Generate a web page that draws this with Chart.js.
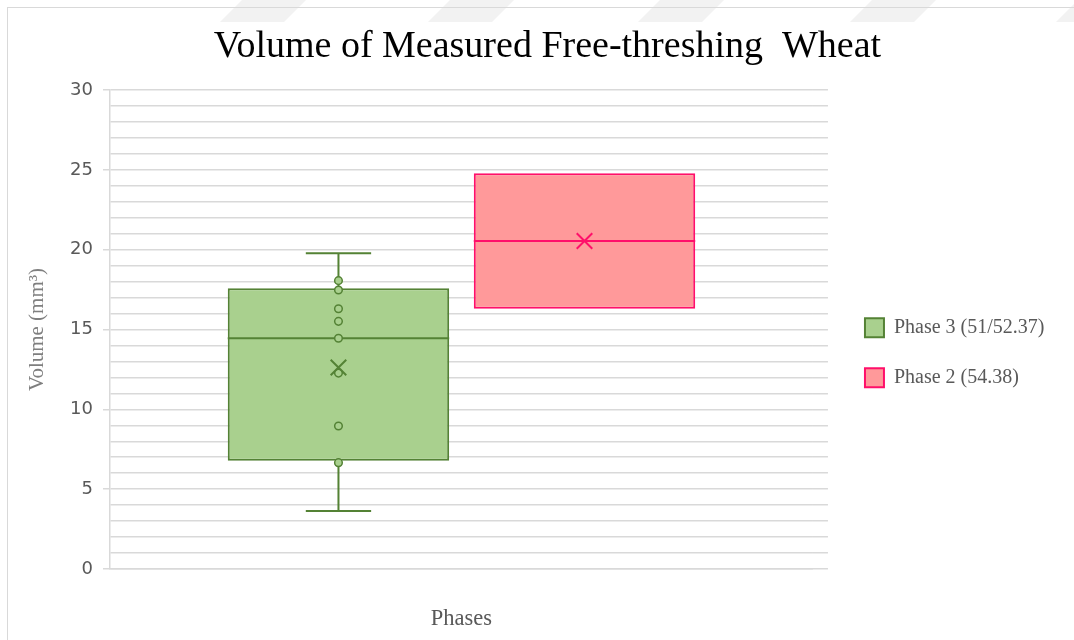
<!DOCTYPE html>
<html>
<head>
<meta charset="utf-8">
<script src="https://cdn.jsdelivr.net/npm/chart.js@4.4.1/dist/chart.umd.min.js"></script>
<style>
  html, body { margin: 0; padding: 0; background: #fff; }
  #wrap { position: relative; width: 1074px; height: 640px; overflow: hidden; background: #fff; }
  .band { position: absolute; top: -2px; width: 64px; height: 24px; background: #f2f2f2; transform: skewX(-45deg); }
  #frame { position: absolute; left: 7px; top: 7px; width: 1200px; height: 800px;
           border: 1.5px solid #d9d9d9; box-sizing: border-box; }
  #c { position: absolute; left: 0; top: 0; }
</style>
</head>
<body>
<div id="wrap">
  <div class="band" style="left:232px"></div>
  <div class="band" style="left:440px"></div>
  <div class="band" style="left:650px"></div>
  <div class="band" style="left:862px"></div>
  <div class="band" style="left:1068px"></div>
  <div id="frame"></div>
  <canvas id="c" width="1074" height="640"></canvas>
</div>
<script>
// Five-number summaries (plus mean) of measured grain volume, mm³
const chartTitle   = 'Volume of Measured Free-threshing  Wheat';
const seriesNames  = ['Phase 3 (51/52.37)', 'Phase 2 (54.38)'];
const whiskerLow   = [3.63, 16.30];
const quartile1    = [6.78, 16.30];
const medians      = [14.45, 20.54];
const quartile3    = [17.58, 24.78];
const whiskerHigh  = [19.77, 24.78];
const means        = [12.62, 20.54];
// individual measurements shown inside the Phase 3 box
const phase3Points = [18.06, 17.47, 16.30, 15.51, 14.45, 12.27, 8.96, 6.66];
const phase2Points = [];
const yTickLabels  = [0, 5, 10, 15, 20, 25, 30];

const fills   = ['#a9d08e', '#ff999a'];
const strokes = ['#548235', '#ff0f6a'];
const pointSets = [phase3Points, phase2Points];

const serif = "'Liberation Serif', 'Times New Roman', serif";
Chart.defaults.font.family = serif;

// whiskers, median line, data points and mean marker for each box
const boxDetails = {
  id: 'boxDetails',
  afterDatasetsDraw(chart) {
    const ctx = chart.ctx;
    const ys = chart.scales.y;
    chart.data.datasets.forEach((ds, i) => {
      const bar = chart.getDatasetMeta(i).data[0];
      if (!bar) return;
      const { x, width } = bar.getProps(['x', 'width'], true);
      const left = x - width / 2, right = x + width / 2;
      const cap = width * 0.295 / 2;
      ctx.save();
      ctx.strokeStyle = strokes[i];
      ctx.lineWidth = 2;
      ctx.beginPath();
      const ym = ys.getPixelForValue(medians[i]);
      ctx.moveTo(left, ym); ctx.lineTo(right, ym);
      if (whiskerHigh[i] > quartile3[i]) {
        const y3 = ys.getPixelForValue(quartile3[i]), yh = ys.getPixelForValue(whiskerHigh[i]);
        ctx.moveTo(x, y3); ctx.lineTo(x, yh);
        ctx.moveTo(x - cap, yh); ctx.lineTo(x + cap, yh);
      }
      if (whiskerLow[i] < quartile1[i]) {
        const y1 = ys.getPixelForValue(quartile1[i]), yl = ys.getPixelForValue(whiskerLow[i]);
        ctx.moveTo(x, y1); ctx.lineTo(x, yl);
        ctx.moveTo(x - cap, yl); ctx.lineTo(x + cap, yl);
      }
      ctx.stroke();
      ctx.restore();

      pointSets[i].forEach(v => {
        ctx.save();
        ctx.strokeStyle = strokes[i];
        ctx.fillStyle = fills[i];
        ctx.lineWidth = 1.5;
        Chart.helpers.drawPoint(ctx, { pointStyle: 'circle', radius: 3.8, borderWidth: 1.5 }, x, ys.getPixelForValue(v));
        ctx.restore();
      });

      ctx.save();
      ctx.strokeStyle = strokes[i];
      ctx.lineWidth = 2;
      Chart.helpers.drawPoint(ctx, { pointStyle: 'crossRot', radius: 11, borderWidth: 2 }, x, ys.getPixelForValue(means[i]));
      ctx.restore();
    });
  }
};

const gridColor = '#d9d9d9';

new Chart(document.getElementById('c'), {
  type: 'bar',
  data: {
    labels: [''],
    datasets: seriesNames.map((name, i) => ({
      label: name,
      data: [[quartile1[i], quartile3[i]]],
      backgroundColor: fills[i],
      borderColor: strokes[i],
      borderWidth: 2,
      borderSkipped: false,
      categoryPercentage: 0.7,
      barPercentage: 0.9
    }))
  },
  options: {
    responsive: false,
    animation: false,
    layout: { padding: { left: 22, right: 1, top: 0, bottom: 4 } },
    plugins: {
      title: {
        display: true,
        text: chartTitle,
        color: '#000',
        font: { size: 38, family: serif, weight: 'normal' },
        padding: { top: 24, bottom: 20.4 }
      },
      legend: {
        position: 'right',
        align: 'center',
        fullSize: false,
        maxWidth: 320,
        title: { display: true, text: ' ', font: { size: 17 }, padding: { top: 13, bottom: 13 } },
        labels: {
          boxWidth: 19,
          boxHeight: 19,
          padding: 30,
          color: '#595959',
          font: { size: 20, family: serif }
        }
      },
      tooltip: { enabled: false }
    },
    scales: {
      x: {
        offset: true,
        grid: { display: false, drawTicks: false },
        border: { display: true, color: gridColor, width: 1.5 },
        ticks: { display: false },
        title: {
          display: true,
          text: 'Phases',
          color: '#595959',
          font: { size: 22.5, family: serif },
          padding: { top: 36.5, bottom: 3.5 }
        }
      },
      y: {
        min: 0,
        max: 30,
        ticks: {
          stepSize: 1,
          autoSkip: false,
          padding: 10,
          color: '#595959',
          font: { size: 18, family: "'DejaVu Sans', sans-serif" },
          callback: v => (yTickLabels.includes(v) ? String(v) : '')
        },
        grid: {
          color: gridColor,
          lineWidth: 1.5,
          tickLength: 7,
          tickColor: c => (yTickLabels.includes(c.tick.value) ? gridColor : 'rgba(0,0,0,0)')
        },
        border: { display: true, color: gridColor, width: 1.5 },
        title: {
          display: true,
          text: 'Volume (mm³)',
          color: '#7f7f7f',
          font: { size: 21, family: serif },
          padding: { top: 2.4, bottom: 10.5 }
        }
      },
      // continues the horizontal gridlines a little past the plot edge
      yR: {
        position: 'right',
        min: 0,
        max: 30,
        ticks: { display: false, stepSize: 1 },
        grid: { drawOnChartArea: false, tickLength: 15, tickColor: gridColor, lineWidth: 1.5 },
        border: { display: false },
        afterFit: s => { s.width = 22; }
      },
      // empty margin to the right of the legend
      yMargin: {
        position: 'right',
        weight: 2000,
        min: 0,
        max: 30,
        ticks: { display: false },
        grid: { display: false, drawTicks: false },
        border: { display: false },
        afterFit: s => { s.width = 18.5; }
      }
    }
  },
  plugins: [boxDetails]
});
</script>
</body>
</html>
